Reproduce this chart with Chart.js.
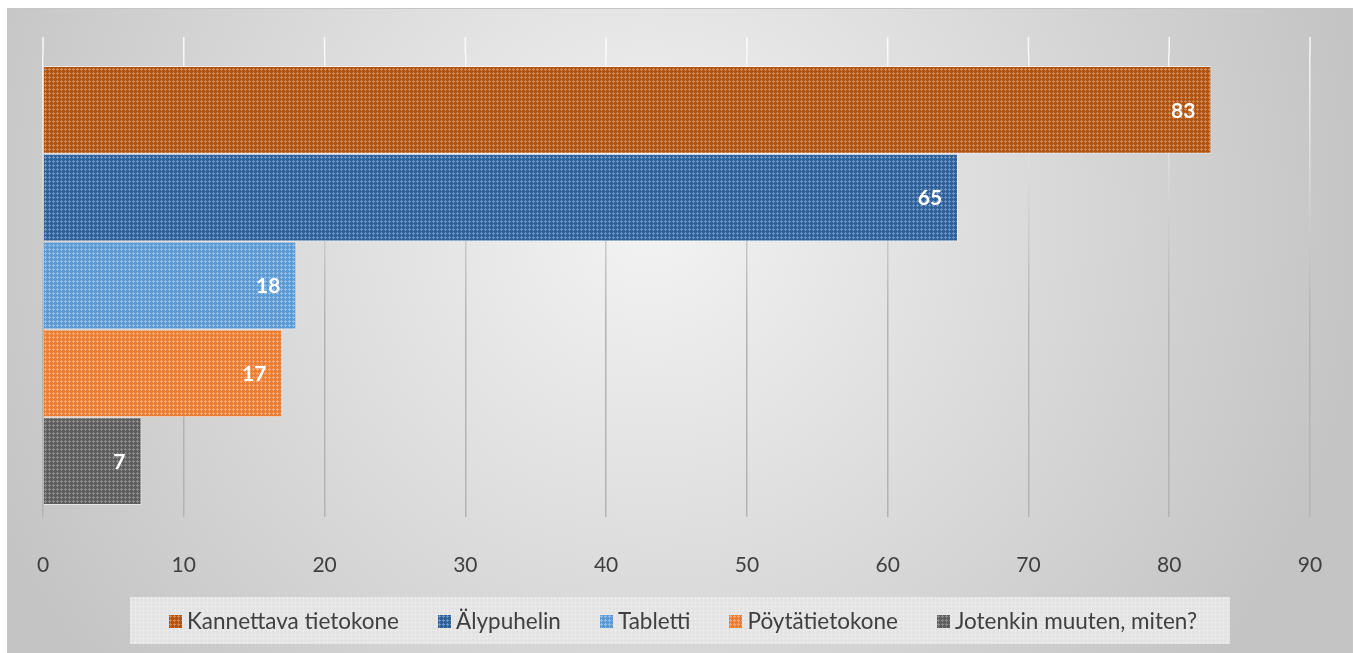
<!DOCTYPE html>
<html>
<head>
<meta charset="utf-8">
<script src="https://cdn.jsdelivr.net/npm/chart.js@4/dist/chart.umd.min.js"></script>
<style>
  html, body { margin: 0; padding: 0; background: #fff; }
  #wrap { position: relative; width: 1353px; height: 653px; }
  #legend {
    position: absolute; left: 130px; top: 597px; width: 1100px; height: 47px;
    display: flex; align-items: center; box-sizing: border-box; padding-left: 39px;
    font-family: Lato, sans-serif; font-size: 22.5px; color: #404040;
  }
  #legend .item { display: flex; align-items: center; margin-right: 39px; white-space: nowrap; }
  #legend .swatch { width: 13px; height: 13px; margin-right: 5px; margin-top: 1px; }
</style>
</head>
<body>
<div id="wrap">
  <canvas id="deviceChart" width="1353" height="653"></canvas>
  <div id="legend"></div>
</div>
<script>
// data
const categories = ['Kannettava tietokone', 'Älypuhelin', 'Tabletti', 'Pöytätietokone', 'Jotenkin muuten, miten?'];
const values = [83, 65, 18, 17, 7];
const axisMax = 90;
const axisStep = 10;

const baseColors = ['#b2530f', '#2e619a', '#5b9bd5', '#ed7d31', '#5e5e5e'];
const dotColors = ['#cf8a58', '#6f97c6', '#94bde6', '#f5a873', '#8c8c8c'];

const canvas = document.getElementById('deviceChart');
const ctx = canvas.getContext('2d');

/**
 * Small dotted tile like the office chart fill
 */
function makeTile(base, dot) {
  const tile = document.createElement('canvas');
  tile.width = 4;
  tile.height = 4;
  const g = tile.getContext('2d');
  g.fillStyle = base;
  g.fillRect(0, 0, 4, 4);
  g.fillStyle = dot;
  g.fillRect(1, 0, 1, 1);
  g.fillRect(0, 1, 3, 1);
  g.fillRect(1, 2, 1, 1);
  return tile;
}

function makePattern(base, dot) {
  return ctx.createPattern(makeTile(base, dot), 'repeat');
}

// background panel with the grey radial shading
const backgroundPanel = {
  id: 'backgroundPanel',
  beforeDraw(chart) {
    const c = chart.ctx;
    c.save();
    c.fillStyle = '#ffffff';
    c.fillRect(0, 0, chart.width, chart.height);
    const grad = c.createRadialGradient(650, 220, 0, 650, 220, 720);
    grad.addColorStop(0, '#f3f3f3');
    grad.addColorStop(1, '#c4c4c4');
    c.fillStyle = grad;
    c.fillRect(7, 8, chart.width - 7, chart.height - 8);
    c.strokeStyle = '#c6c6c6';
    c.lineWidth = 1;
    c.strokeRect(7.5, 8.5, chart.width - 8, chart.height - 8);
    c.restore();
  }
};

// grid lines run a bit above the bar block
const gridExtend = {
  id: 'gridExtend',
  beforeDatasetsDraw(chart) {
    const c = chart.ctx;
    const x = chart.scales.x;
    const area = chart.chartArea;
    c.save();
    c.strokeStyle = 'rgba(255,255,255,0.85)';
    c.lineWidth = 1.5;
    x.ticks.forEach(t => {
      const px = x.getPixelForValue(t.value);
      c.beginPath();
      c.moveTo(px, area.top - 17);
      c.lineTo(px, area.top);
      c.stroke();
    });
    c.restore();
  }
};

// value labels inside the bar end
const valueLabels = {
  id: 'valueLabels',
  afterDatasetsDraw(chart) {
    const c = chart.ctx;
    c.save();
    c.font = 'bold 21px Lato';
    c.fillStyle = '#ffffff';
    c.textAlign = 'right';
    c.textBaseline = 'middle';
    chart.data.datasets.forEach((ds, i) => {
      chart.getDatasetMeta(i).data.forEach((bar, j) => {
        c.fillText(ds.data[j], bar.x - 16, bar.y + 1);
      });
    });
    c.restore();
  }
};

function buildLegend(chart) {
  const box = document.getElementById('legend');
  box.style.backgroundImage = 'url(' + makeTile('#e3e3e3', '#ebebeb').toDataURL() + ')';
  chart.data.datasets.forEach((ds, i) => {
    const item = document.createElement('span');
    item.className = 'item';
    const sw = document.createElement('span');
    sw.className = 'swatch';
    sw.style.backgroundImage = 'url(' + makeTile(baseColors[i], dotColors[i]).toDataURL() + ')';
    item.appendChild(sw);
    item.appendChild(document.createTextNode(ds.label));
    box.appendChild(item);
  });
}

function createDeviceChart() {
  const grad = ctx.createLinearGradient(0, 38, 0, 320);
  grad.addColorStop(0, 'rgba(255,255,255,0.9)');
  grad.addColorStop(1, '#b3b3b3');

  return new Chart(ctx, {
    type: 'bar',
    data: {
      labels: [''],
      datasets: categories.map((name, i) => ({
        label: name,
        data: [values[i]],
        backgroundColor: makePattern(baseColors[i], dotColors[i]),
        borderColor: 'rgba(255,255,255,0.55)',
        borderWidth: 1,
        barPercentage: 1,
        categoryPercentage: 0.948
      }))
    },
    options: {
      indexAxis: 'y',
      responsive: false,
      animation: false,
      layout: { padding: { left: 43, right: 43, top: 54, bottom: 40 } },
      scales: {
        x: {
          min: 0,
          max: axisMax,
          ticks: {
            stepSize: axisStep,
            padding: 3,
            color: '#404040',
            // tall line box pushes the labels down without widening the side padding
            font: { family: 'Lato', size: 21, lineHeight: '90px' }
          },
          grid: {
            color: grad,
            lineWidth: 1.5,
            drawTicks: false
          },
          border: { display: false }
        },
        y: {
          display: false
        }
      },
      plugins: {
        legend: { display: false },
        tooltip: { enabled: false }
      }
    },
    plugins: [backgroundPanel, gridExtend, valueLabels]
  });
}

const deviceChart = createDeviceChart();
buildLegend(deviceChart);
</script>
</body>
</html>
